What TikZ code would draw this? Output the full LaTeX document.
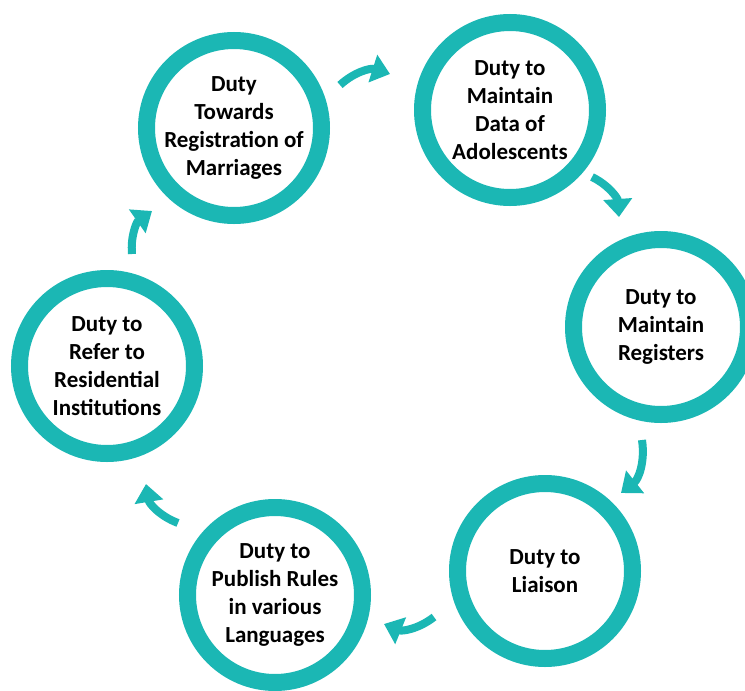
\documentclass[tikz,border=0pt]{standalone}
\usepackage{fontspec}
\setmainfont{Carlito}
\usetikzlibrary{arrows.meta}
\definecolor{ring}{HTML}{1BB7B4}
\tikzset{
  duty/.style={circle,draw=ring,line width=17pt,minimum size=175pt,inner sep=0pt,
    align=center,font=\bfseries\fontsize{23}{28}\selectfont},
  turn/.style={draw=ring,line width=8pt,-{Triangle[length=18pt,width=28pt]}},
}
\begin{document}
\begin{tikzpicture}[x=1pt,y=-1pt]
  \useasboundingbox (0,0) rectangle (745,691);
  % the six duties, clockwise from top left
  \node[duty](marr) at (234,128){Duty\\Towards\\Registration of\\Marriages};
  \node[duty](adol) at (510,110){Duty to\\Maintain\\Data of\\Adolescents};
  \node[duty](regs) at (661,327){Duty to\\Maintain\\Registers};
  \node[duty](liai) at (545,571){Duty to\\Liaison};
  \node[duty](publ) at (275,595){Duty to\\Publish Rules\\in various\\Languages};
  \node[duty](refr) at (107,366){Duty to\\Refer to\\Residential\\Institutions};
  % short curved arrows in the gaps
  \coordinate (t1) at (340,85);  \coordinate (h1) at (390,74);
  \coordinate (t2) at (592,177); \coordinate (h2) at (619,217);
  \coordinate (t3) at (642,440); \coordinate (h3) at (621,493);
  \coordinate (t4) at (434,617); \coordinate (h4) at (384,624);
  \coordinate (t5) at (178,523); \coordinate (h5) at (146,484);
  \coordinate (t6) at (132,254); \coordinate (h6) at (152,211);
  \foreach \i in {1,...,6} \draw[turn](t\i) to[bend left=30] (h\i);
\end{tikzpicture}
\end{document}
